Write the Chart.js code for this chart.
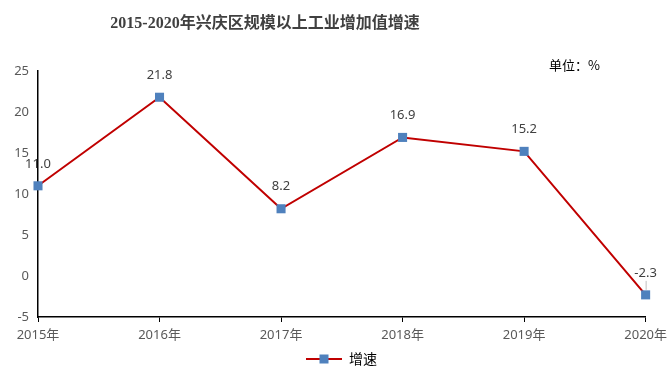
<!DOCTYPE html>
<html>
<head>
<meta charset="utf-8">
<script src="https://cdn.jsdelivr.net/npm/chart.js@4/dist/chart.umd.min.js"></script>
<style>
  html, body { margin: 0; padding: 0; background: #fff; }
  #wrap { position: relative; width: 672px; height: 376px; }
  #title {
    position: absolute; left: 0; top: 9px; width: 530px; text-align: center;
    font: bold 16px 'Liberation Serif', 'Noto Sans CJK SC', serif; color: #404040;
  }
  #unit {
    position: absolute; left: 549px; top: 55px;
    font: 13px 'Noto Sans CJK SC', sans-serif; color: #000;
  }
</style>
</head>
<body>
<div id="wrap">
  <canvas id="c" width="672" height="376"></canvas>
  <div id="title">2015-2020年兴庆区规模以上工业增加值增速</div>
  <div id="unit">单位：%</div>
</div>
<script>
// data
const years = ['2015年', '2016年', '2017年', '2018年', '2019年', '2020年'];
const growth = [11.0, 21.8, 8.2, 16.9, 15.2, -2.3];
const seriesName = '增速';
const yMin = -5, yMax = 25, yStep = 5;

const LINE = '#C00000';
const MARK = '#4F81BD';
const TEXT = '#595959';

// legend symbol: line with square in middle (blank space on the left to shift it right)
function legendIcon() {
    const cv = document.createElement('canvas');
    cv.width = 68; cv.height = 10;
    const g = cv.getContext('2d');
    g.strokeStyle = LINE; g.lineWidth = 2;
    g.beginPath(); g.moveTo(32, 5); g.lineTo(68, 5); g.stroke();
    g.fillStyle = MARK;
    g.fillRect(45.5, 0.5, 9, 9);
    return cv;
}

// value labels above points
const valueLabels = {
    id: 'valueLabels',
    afterDatasetsDraw(chart) {
        const ctx = chart.ctx;
        const meta = chart.getDatasetMeta(0);
        ctx.save();
        ctx.font = '13px "Noto Sans", "Noto Sans CJK SC", sans-serif';
        ctx.fillStyle = '#404040';
        ctx.textAlign = 'center';
        ctx.textBaseline = 'middle';
        meta.data.forEach((pt, i) => {
            const v = growth[i];
            ctx.fillText(v.toFixed(1), pt.x, pt.y - 22);
            if (v < 0) {
                // small leader line
                ctx.strokeStyle = '#BFBFBF';
                ctx.lineWidth = 1;
                ctx.beginPath();
                ctx.moveTo(pt.x + 0.5, pt.y - 14);
                ctx.lineTo(pt.x + 0.5, pt.y - 5);
                ctx.stroke();
            }
        });
        ctx.restore();
    }
};

new Chart(document.getElementById('c'), {
    type: 'line',
    data: {
        labels: years,
        datasets: [{
            label: seriesName,
            data: growth,
            borderColor: LINE,
            borderWidth: 2,
            pointStyle: 'rect',
            pointRadius: 6.4,
            pointBackgroundColor: MARK,
            pointBorderColor: MARK,
            pointBorderWidth: 0,
            tension: 0,
            clip: false
        }]
    },
    options: {
        responsive: false,
        animation: false,
        layout: { padding: { top: 71, right: 21, left: 0, bottom: 0 } },
        plugins: {
            title: { display: false },
            tooltip: { enabled: false },
            legend: {
                position: 'bottom',
                labels: {
                    usePointStyle: true,
                    pointStyleWidth: 68,
                    padding: 8,
                    color: TEXT,
                    font: { size: 14, family: '"Noto Sans CJK SC", sans-serif' },
                    generateLabels: () => [{
                        text: seriesName,
                        pointStyle: legendIcon(),
                        fillStyle: MARK,
                        strokeStyle: LINE,
                        lineWidth: 0,
                        hidden: false,
                        datasetIndex: 0
                    }]
                }
            }
        },
        scales: {
            x: {
                offset: false,
                afterFit: s => { s.height = 27; },
                border: { display: true, color: '#000', width: 1.5 },
                grid: { display: true, drawOnChartArea: false, drawTicks: true, tickLength: 5, color: '#000' },
                ticks: {
                    color: TEXT, padding: 5, maxRotation: 0,
                    font: { size: 13, family: '"Noto Sans", "Noto Sans CJK SC", sans-serif' }
                }
            },
            y: {
                min: yMin, max: yMax,
                afterFit: s => { s.width = 38; },
                border: { display: true, color: '#000', width: 1.5 },
                grid: { display: false, drawTicks: false },
                ticks: {
                    stepSize: yStep, color: TEXT, padding: 9,
                    font: { size: 13, family: '"Noto Sans", sans-serif' }
                }
            }
        }
    },
    plugins: [valueLabels]
});
</script>
</body>
</html>
